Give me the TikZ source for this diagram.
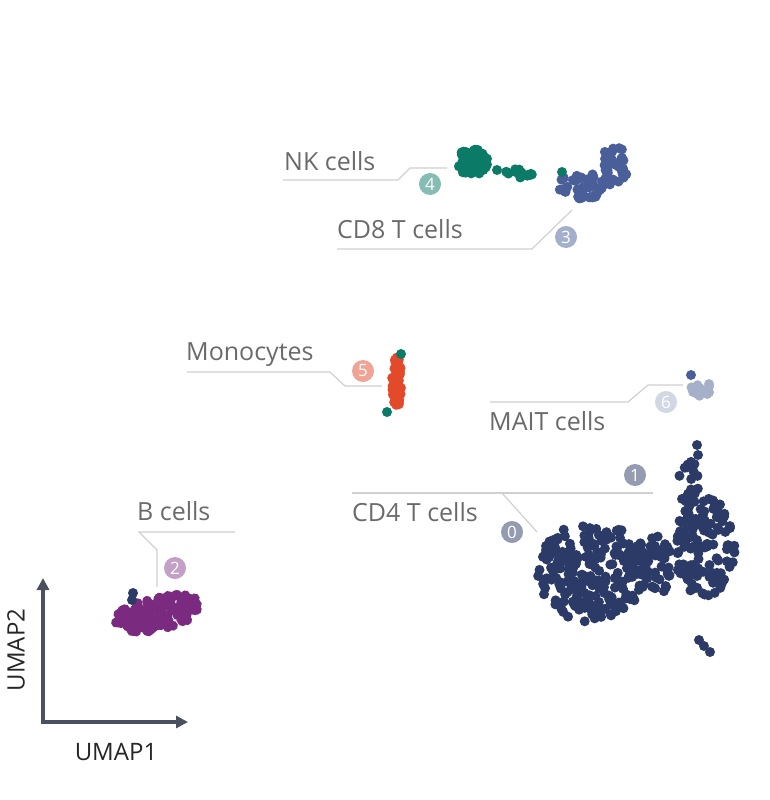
\documentclass[tikz,border=0pt]{standalone}
\usepackage{fontspec}
\setmainfont{Open Sans}
\usetikzlibrary{arrows.meta}
\definecolor{nkgreen}{HTML}{0B7A67}
\definecolor{cdblue}{HTML}{4A5F9A}
\definecolor{monored}{HTML}{E24A2A}
\definecolor{maitgrey}{HTML}{A6B0C8}
\definecolor{cdnavy}{HTML}{2B3A66}
\definecolor{bpurple}{HTML}{7A2B80}
\definecolor{callout}{HTML}{D0D0D0}
\definecolor{labelgrey}{HTML}{6A6A6A}
\definecolor{axisgrey}{HTML}{4A5060}
\tikzset{>=Stealth}
\tikzset{%
    celllabel/.style={text=labelgrey, font=\fontsize{25}{27}\selectfont, inner sep=0pt, anchor=base west},
    calloutline/.style={callout, line width=1.2pt},
    clusternum/.style={circle, fill=#1, text=white, minimum size=22pt, inner sep=0pt, font=\fontsize{17}{17}\selectfont},
    axislabel/.style={text=black!85, font=\fontsize{24}{26}\selectfont, inner sep=0pt}
}
% scatter a cloud of cells: n, cx, cy, rx, ry, rotation, colour
\newcommand{\cellcloud}[7]{%
    \foreach \k in {1,...,#1}{%
        \pgfmathsetmacro{\ang}{360*rnd}%
        \pgfmathsetmacro{\rad}{sqrt(rnd)}%
        \fill[#7, rotate around={#6:(#2,#3)}] ({#2+#4*\rad*cos(\ang)},{#3+#5*\rad*sin(\ang)}) circle (5);
    }%
}
\begin{document}
\begin{tikzpicture}[x=1pt,y=-1pt]
    \pgfmathsetseed{7}
    \useasboundingbox (0,0) rectangle (769,800);
%    NK and CD8
    \cellcloud{45}{472}{162}{16}{13}{0}{nkgreen}
    \cellcloud{16}{520}{172}{14}{6}{0}{nkgreen}
    \cellcloud{35}{615}{166}{15}{20}{0}{cdblue}
    \cellcloud{45}{582}{186}{24}{13}{0}{cdblue}
    \fill[nkgreen] (562,172) circle (5);
    \fill[nkgreen] (497,170) circle (5);
%    monocytes
    \cellcloud{45}{397}{382}{5}{25}{0}{monored}
    \fill[nkgreen] (401,354) circle (5);
    \fill[nkgreen] (387,412) circle (5);
%    MAIT
    \cellcloud{22}{701}{388}{10}{9}{0}{maitgrey}
    \fill[cdblue] (691,375) circle (5);
%    CD4
    \cellcloud{230}{592}{572}{54}{50}{0}{cdnavy}
    \cellcloud{130}{705}{548}{30}{52}{0}{cdnavy}
    \cellcloud{50}{652}{565}{22}{32}{0}{cdnavy}
    \cellcloud{22}{688}{485}{10}{28}{0}{cdnavy}
    \foreach \p in {(697,445),(698,455),(699,640),(704,646),(710,652),(546,546)}
        \fill[cdnavy] \p circle (5);
%    B cells
    \cellcloud{120}{158}{613}{43}{17}{12}{bpurple}
    \fill[cdnavy] (133,593) circle (5);
    \fill[cdnavy] (132,600) circle (5);
%    callouts
    \node[celllabel] (nk) at (284,170) {NK cells};
    \node[celllabel] (cdeight) at (337,238) {CD8 T cells};
    \node[celllabel] (mono) at (186,360) {Monocytes};
    \node[celllabel] (mait) at (489,430) {MAIT cells};
    \node[celllabel] (cdfour) at (352,521) {CD4 T cells};
    \node[celllabel] (bcell) at (137,520) {B cells};
    \draw[calloutline] (283,180) -- (398,180) -- (410,168) -- (447,168);
    \draw[calloutline] (337,249) -- (532,249) -- (572,210);
    \draw[calloutline] (187,372) -- (330,372) -- (345,386) -- (382,386);
    \draw[calloutline] (490,402) -- (628,402) -- (648,385) -- (683,385);
    \draw[calloutline] (352,493) -- (653,493);
    \draw[calloutline] (502,493) -- (537,532);
    \draw[calloutline] (235,532) -- (139,532) -- (157,550) -- (157,587);
    \node[clusternum=nkgreen!50] (n4) at (430,184) {4};
    \node[clusternum=cdblue!50] (n3) at (566,237) {3};
    \node[clusternum=monored!50] (n5) at (363,371) {5};
    \node[clusternum=maitgrey!50] (n6) at (666,402) {6};
    \node[clusternum=cdnavy!50] (n1) at (635,475) {1};
    \node[clusternum=cdnavy!50] (n0) at (512,532) {0};
    \node[clusternum=bpurple!45] (n2) at (175,568) {2};
%    axes
    \coordinate (origin) at (43,722);
    \coordinate (ytip) at (43,578);
    \coordinate (xtip) at (188,722);
    \draw[axisgrey, line width=3.5pt, -{Triangle[length=12pt,width=12pt]}] ([yshift=1.75pt]origin) -- (ytip);
    \draw[axisgrey, line width=3.5pt, -{Triangle[length=12pt,width=12pt]}] ([xshift=-1.75pt]origin) -- (xtip);
    \node[axislabel, rotate=90] (umapb) at (16,650) {UMAP2};
    \node[axislabel] (umapa) at (116,752) {UMAP1};
\end{tikzpicture}
\end{document}
